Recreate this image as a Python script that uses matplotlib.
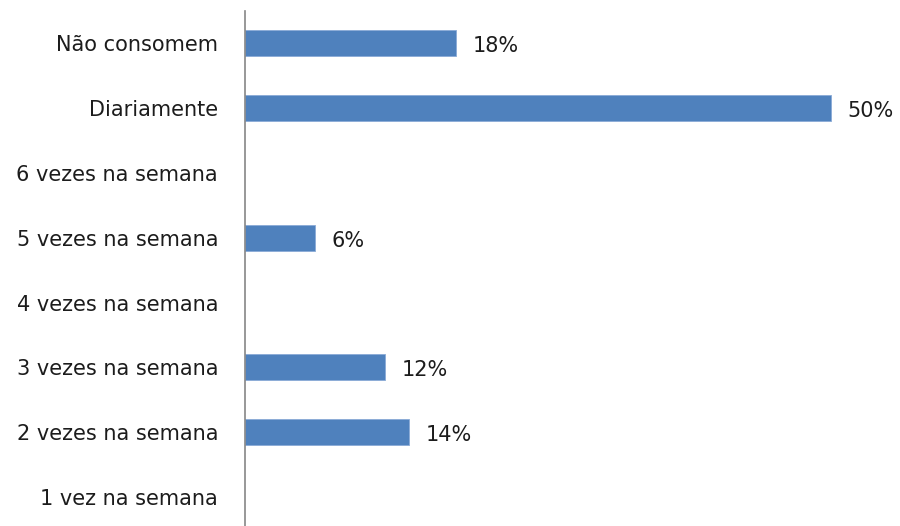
import matplotlib.pyplot as plt

# frequency of consumption, top to bottom
categories = [
    "Não consomem",
    "Diariamente",
    "6 vezes na semana",
    "5 vezes na semana",
    "4 vezes na semana",
    "3 vezes na semana",
    "2 vezes na semana",
    "1 vez na semana",
]
percent = [18, 50, None, 6, None, 12, 14, None]

BAR_COLOR = "#4F81BD"
TEXT_COLOR = "#1c1c1c"

fig = plt.figure(figsize=(9, 5.26), dpi=100)
ax = fig.add_axes([244.5 / 900, 0, 1 - 244.5 / 900, 515 / 526])

ypos = list(range(len(categories)))
for y, v in zip(ypos, percent):
    if v is None:
        continue
    ax.barh(y, v, height=0.4, color=BAR_COLOR, edgecolor="#8aaad6", linewidth=0.6)
    ax.annotate(f"{v}%", xy=(v, y), xytext=(12, -2), textcoords="offset points",
                va="center", ha="left", fontsize=15, color=TEXT_COLOR)

ax.set_xlim(0, (900 - 244.5) / 11.73)
ax.set_ylim(-0.5 + 515 / 64.8, -0.5)
ax.set_yticks(ypos)
ax.set_yticklabels(categories, fontsize=15, color=TEXT_COLOR)
ax.tick_params(axis="y", length=0, pad=19)
ax.set_xticks([])

for side in ("top", "right", "bottom"):
    ax.spines[side].set_visible(False)
ax.spines["left"].set_color("#868686")
ax.spines["left"].set_linewidth(1.2)

fig.savefig("out.png", dpi=100)
